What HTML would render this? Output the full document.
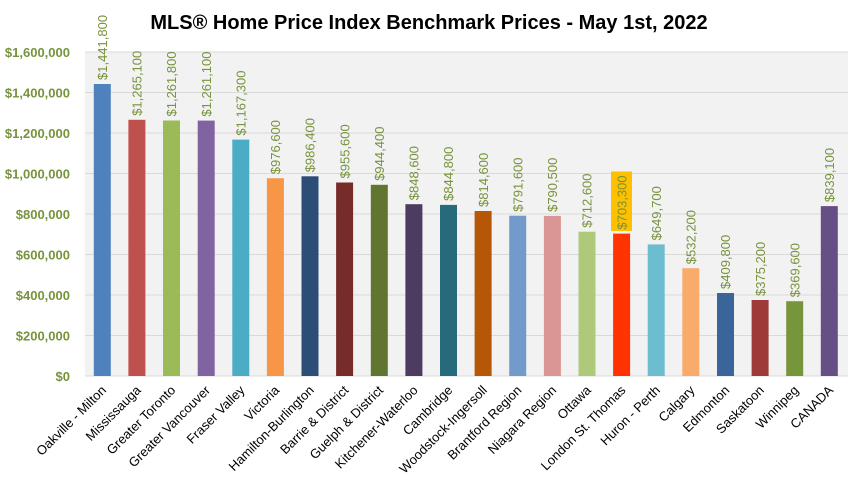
<!DOCTYPE html>
<html><head><meta charset="utf-8"><style>
body{margin:0;background:#fff}
svg{display:block}
text{font-family:"Liberation Sans",sans-serif}
.v{font-size:13px;fill:#77933c}
.x{font-size:13px;fill:#000}
.y{font-size:13px;font-weight:bold;fill:#77933c}
</style></head><body>
<svg width="858" height="487" viewBox="0 0 858 487" xmlns="http://www.w3.org/2000/svg">
<rect width="858" height="487" fill="#fff"/>
<rect x="85" y="52" width="763" height="324" fill="#f2f2f2"/>
<g stroke="#d9d9d9" stroke-width="1">
<line x1="85" x2="848" y1="52" y2="52"/><line x1="85" x2="848" y1="92.5" y2="92.5"/><line x1="85" x2="848" y1="133" y2="133"/><line x1="85" x2="848" y1="173.5" y2="173.5"/><line x1="85" x2="848" y1="214" y2="214"/><line x1="85" x2="848" y1="254.5" y2="254.5"/><line x1="85" x2="848" y1="295" y2="295"/><line x1="85" x2="848" y1="335.5" y2="335.5"/><line x1="85" x2="848" y1="376" y2="376"/>
</g>
<text x="429" y="29" text-anchor="middle" font-size="20" font-weight="bold" fill="#000">MLS® Home Price Index Benchmark Prices - May 1st, 2022</text>
<g text-anchor="end">
<text class="y" x="70" y="57">$1,600,000</text>
<text class="y" x="70" y="97.5">$1,400,000</text>
<text class="y" x="70" y="138">$1,200,000</text>
<text class="y" x="70" y="178.5">$1,000,000</text>
<text class="y" x="70" y="219">$800,000</text>
<text class="y" x="70" y="259.5">$600,000</text>
<text class="y" x="70" y="300">$400,000</text>
<text class="y" x="70" y="340.5">$200,000</text>
<text class="y" x="70" y="381">$0</text>
</g>
<g>
<rect x="93.8" y="84.0" width="17" height="292.0" fill="#4f81bd"/>
<rect x="128.4" y="119.8" width="17" height="256.2" fill="#c0504d"/>
<rect x="163.0" y="120.5" width="17" height="255.5" fill="#9bbb59"/>
<rect x="197.7" y="120.6" width="17" height="255.4" fill="#8064a2"/>
<rect x="232.3" y="139.6" width="17" height="236.4" fill="#4bacc6"/>
<rect x="266.9" y="178.2" width="17" height="197.8" fill="#f79646"/>
<rect x="301.5" y="176.3" width="17" height="199.7" fill="#2c4d75"/>
<rect x="336.1" y="182.5" width="17" height="193.5" fill="#772c2a"/>
<rect x="370.8" y="184.8" width="17" height="191.2" fill="#5f7530"/>
<rect x="405.4" y="204.2" width="17" height="171.8" fill="#4d3b62"/>
<rect x="440.0" y="204.9" width="17" height="171.1" fill="#276a7c"/>
<rect x="474.6" y="211.0" width="17" height="165.0" fill="#b65708"/>
<rect x="509.2" y="215.7" width="17" height="160.3" fill="#729aca"/>
<rect x="543.9" y="215.9" width="17" height="160.1" fill="#d99694"/>
<rect x="578.5" y="231.7" width="17" height="144.3" fill="#aec979"/>
<rect x="613.1" y="233.6" width="17" height="142.4" fill="#ff3300"/>
<rect x="647.7" y="244.4" width="17" height="131.6" fill="#6cbdd0"/>
<rect x="682.3" y="268.2" width="17" height="107.8" fill="#f9ab6b"/>
<rect x="717.0" y="293.0" width="17" height="83.0" fill="#3a6598"/>
<rect x="751.6" y="300.0" width="17" height="76.0" fill="#9e3b39"/>
<rect x="786.2" y="301.2" width="17" height="74.8" fill="#77963c"/>
<rect x="820.8" y="206.1" width="17" height="169.9" fill="#664f84"/>
</g>
<rect x="611" y="171.5" width="21" height="59.5" fill="#ffc000"/>
<g>
<text class="v" transform="translate(107,80) rotate(-90)">$1,441,800</text>
<text class="v" transform="translate(141.6,115.8) rotate(-90)">$1,265,100</text>
<text class="v" transform="translate(176.2,116.5) rotate(-90)">$1,261,800</text>
<text class="v" transform="translate(210.9,116.6) rotate(-90)">$1,261,100</text>
<text class="v" transform="translate(245.5,135.6) rotate(-90)">$1,167,300</text>
<text class="v" transform="translate(280.1,174.2) rotate(-90)">$976,600</text>
<text class="v" transform="translate(314.7,172.3) rotate(-90)">$986,400</text>
<text class="v" transform="translate(349.3,178.5) rotate(-90)">$955,600</text>
<text class="v" transform="translate(384,180.8) rotate(-90)">$944,400</text>
<text class="v" transform="translate(418.6,200.2) rotate(-90)">$848,600</text>
<text class="v" transform="translate(453.2,200.9) rotate(-90)">$844,800</text>
<text class="v" transform="translate(487.8,207) rotate(-90)">$814,600</text>
<text class="v" transform="translate(522.4,211.7) rotate(-90)">$791,600</text>
<text class="v" transform="translate(557.1,211.9) rotate(-90)">$790,500</text>
<text class="v" transform="translate(591.7,227.7) rotate(-90)">$712,600</text>
<text class="v" transform="translate(626.3,229.6) rotate(-90)">$703,300</text>
<text class="v" transform="translate(660.9,240.4) rotate(-90)">$649,700</text>
<text class="v" transform="translate(695.5,264.2) rotate(-90)">$532,200</text>
<text class="v" transform="translate(730.2,289) rotate(-90)">$409,800</text>
<text class="v" transform="translate(764.8,296) rotate(-90)">$375,200</text>
<text class="v" transform="translate(799.4,297.2) rotate(-90)">$369,600</text>
<text class="v" transform="translate(834,202.1) rotate(-90)">$839,100</text>
</g>
<g text-anchor="end">
<text class="x" transform="translate(107,391) rotate(-45)">Oakville - Milton</text>
<text class="x" transform="translate(141.6,391) rotate(-45)">Mississauga</text>
<text class="x" transform="translate(176.2,391) rotate(-45)">Greater Toronto</text>
<text class="x" transform="translate(210.9,391) rotate(-45)">Greater Vancouver</text>
<text class="x" transform="translate(245.5,391) rotate(-45)">Fraser Valley</text>
<text class="x" transform="translate(280.1,391) rotate(-45)">Victoria</text>
<text class="x" transform="translate(314.7,391) rotate(-45)">Hamilton-Burlington</text>
<text class="x" transform="translate(349.3,391) rotate(-45)">Barrie &amp; District</text>
<text class="x" transform="translate(384,391) rotate(-45)">Guelph &amp; District</text>
<text class="x" transform="translate(418.6,391) rotate(-45)">Kitchener-Waterloo</text>
<text class="x" transform="translate(453.2,391) rotate(-45)">Cambridge</text>
<text class="x" transform="translate(487.8,391) rotate(-45)">Woodstock-Ingersoll</text>
<text class="x" transform="translate(522.4,391) rotate(-45)">Brantford Region</text>
<text class="x" transform="translate(557.1,391) rotate(-45)">Niagara Region</text>
<text class="x" transform="translate(591.7,391) rotate(-45)">Ottawa</text>
<text class="x" transform="translate(626.3,391) rotate(-45)">London St. Thomas</text>
<text class="x" transform="translate(660.9,391) rotate(-45)">Huron - Perth</text>
<text class="x" transform="translate(695.5,391) rotate(-45)">Calgary</text>
<text class="x" transform="translate(730.2,391) rotate(-45)">Edmonton</text>
<text class="x" transform="translate(764.8,391) rotate(-45)">Saskatoon</text>
<text class="x" transform="translate(799.4,391) rotate(-45)">Winnipeg</text>
<text class="x" transform="translate(834,391) rotate(-45)">CANADA</text>
</g>
</svg>
</body></html>
